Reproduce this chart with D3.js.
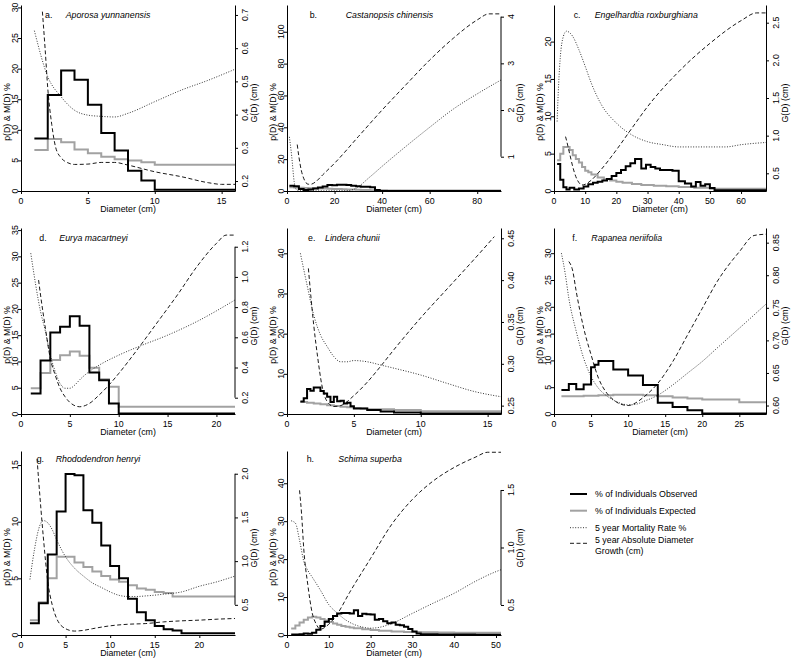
<!DOCTYPE html>
<html><head><meta charset="utf-8">
<script src="https://cdn.jsdelivr.net/npm/d3@7"></script>
<style>
body{margin:0;background:#fff}
svg{display:block}
text{font-family:"Liberation Sans",Arial,sans-serif;font-size:8.8px;fill:#000}
</style>
</head><body>
<svg id="chart" width="793" height="661"></svg>
<script>
// ---------- Panel a: Aporosa yunnanensis ----------
const obsEdgesA = [1,2,3,4,5,6,7,8,9,10,16];
const obsA = [8.6,15.7,19.7,18.2,14.1,9.5,6.6,3.3,1.7,0.2];
const expEdgesA = [1,2,3,4,5,6,7,8,9,10,16];
const expA = [6.7,8.5,7.95,6.8,6.15,5.6,5.2,5.0,4.7,4.3];
const mortXA = [1,2,3,4,5,6,7,8,10,12,14,16];
const mortA = [26.2,18.7,15.4,13.2,12.4,12.2,12.1,12.7,14.6,16.5,18.1,19.9];
const growXA = [1.6,1.8,2.0,2.3,2.6,3.0,3.5,4,5,6,7,8,10,12,14,15,16];
const growA = [0.71,0.6,0.48,0.37,0.3,0.27,0.255,0.25,0.251,0.256,0.256,0.248,0.228,0.213,0.195,0.19,0.19];

// ---------- Panel b: Castanopsis chinensis ----------
const obsEdgesB = [1,3,5,7,9,11,13,15,17,19,21,23,25,27,29,31,33,35,37,39,90];
const obsB = [3.3,3.0,1.2,0.6,0.9,1.5,2.2,2.8,3.8,3.6,3.9,4.0,3.8,3.3,3.0,2.6,2.7,2.3,0.6,0.05];
const expEdgesB = [1,3,5,7,9,11,13,15,17,19,21,23,25,27,29,31,33,35,37,39,42,45,90];
const expB = [2.3,2.2,2.0,1.9,1.8,1.7,1.6,1.5,1.4,1.3,1.2,1.1,1.0,0.9,0.8,0.7,0.6,0.5,0.45,0.4,0.35,0.3];
const mortXB = [1,2,3,4,5,8,15,25,28,35,40,50,60,70,80,90];
const mortB = [34,21.5,6,0.8,0.2,0.1,0.1,0.2,1,9,15.5,28,40,51.5,61,69.7];
const growXB = [4.3,5,6,7,8,9,10,12,15,20,30,40,50,60,70,80,85,90];
const growB = [1.26,1.0,0.71,0.54,0.44,0.41,0.41,0.46,0.61,0.86,1.43,2.0,2.54,3.07,3.54,3.93,4.06,4.06];

// ---------- Panel c: Engelhardtia roxburghiana ----------
const obsEdgesC = [1,2,3,4,5,6.5,8,9.5,11,12.5,14,15.5,17,18.5,20,21.5,23,24.5,26,28,29.5,31,32.5,34,36,38,40,42,44,45.5,47,48.5,50,51.5,68];
const obsC = [3.6,1.5,0.5,0.2,0.45,0.2,0.35,0.6,0.9,1.1,1.25,1.4,1.6,2.0,2.4,2.8,3.3,3.7,4.3,3.0,3.5,3.2,3.0,2.8,2.8,2.7,1.3,1.0,0.6,1.2,0.7,0.9,0.4,0.1];
const expEdgesC = [1,2,3,5,6,7,8,9,10,11,12,14,16,18,20,22,25,28,32,36,40,45,50,68];
const expC = [4.1,5.0,5.9,5.5,4.8,4.3,3.8,3.2,2.7,2.5,2.2,1.8,1.6,1.4,1.25,1.1,0.95,0.82,0.7,0.62,0.55,0.42,0.3];
const mortXC = [1,1.5,2,3,4,5,6,8,10,12,15,20,25,30,35,40,45,50,55,60,68];
const mortC = [9.3,14.4,17.8,20.7,21.4,21.2,20.7,18.9,16.7,14.4,11.7,9.1,7.5,6.6,6.2,5.9,5.9,5.9,5.9,6.2,6.5];
const growXC = [3.7,4,5,6,7,8,9,10,12,15,20,25,30,40,50,60,65,68];
const growC = [0.987,0.94,0.765,0.59,0.456,0.376,0.345,0.354,0.41,0.544,0.81,1.1,1.385,1.85,2.225,2.527,2.63,2.63];

// ---------- Panel d: Eurya macartneyi ----------
const obsEdgesD = [1,2,3,4,5,6,7,8,9,10,21.9];
const obsD = [3.9,10.2,15.5,16.6,18.6,16.8,7.9,6.4,2.0,0.1];
const expEdgesD = [1,2,3,4,5,6,7,8,9,10,21.9];
const expD = [4.9,7.8,10.3,11.2,11.9,11.1,8.8,6.6,5.2,1.4];
const mortXD = [1,2,2.5,3,3.5,4,4.5,5,5.5,6,7,8,10,12,15,18,21.9];
const mortD = [30.6,19.5,15.7,11.2,8.1,5.8,4.9,4.9,5.5,6.5,8.1,9.3,11.2,12.8,15.0,17.6,21.7];
const growXD = [1.8,2,2.5,3,3.5,4,4.5,5,6,7,8,9,10,12,14,16,18,20,21,21.9];
const growD = [0.979,0.88,0.659,0.46,0.35,0.262,0.207,0.169,0.14,0.162,0.218,0.284,0.36,0.527,0.703,0.88,1.068,1.222,1.277,1.277];

// ---------- Panel e: Lindera chunii ----------
const obsEdgesE = [1,1.25,1.5,1.75,2,2.5,2.75,3,3.25,3.5,3.75,4,4.25,4.5,4.75,5,6,7,8,10,16];
const obsE = [3.1,3.9,6.2,5.8,6.6,5.7,5.1,4.3,3.0,4.3,3.2,3.3,2.6,2.8,1.9,1.4,1.0,0.6,0.4,0.15];
const expEdgesE = [1,1.5,2,2.5,3,3.5,4,4.5,5,5.5,6,8,10,16];
const expE = [3.0,2.8,2.6,2.4,2.2,2.0,1.8,1.7,1.5,1.4,1.2,1.0,0.7];
const mortXE = [1,1.5,2,2.5,3,3.5,4,4.5,5,6,7,8,10,12,14,16];
const mortE = [40,32.1,24.6,19.7,16.8,14.3,13,13,13.3,13,12.2,11.4,9.7,7.6,5.6,4.3];
const growXE = [1.6,1.8,2,2.3,2.6,3,3.5,4,5,6,7,8,10,12,14,15.5];
const growE = [0.414,0.378,0.346,0.307,0.275,0.255,0.249,0.25,0.262,0.278,0.297,0.317,0.355,0.39,0.425,0.452];

// ---------- Panel f: Rapanea neriifolia ----------
const obsEdgesF = [1,2,3,4,5,5.5,6,8,10,12,14,16,18,20,28.6];
const obsF = [4.5,5.6,4.6,5.5,8.7,9.2,9.9,8.3,7.2,5.4,2.1,1.3,0.7,0.1];
const expEdgesF = [1,4,6,8,12,14,16,18,20,25,28.6];
const expF = [3.3,3.4,3.5,3.6,3.5,3.3,3.1,2.9,2.7,2.2];
const mortXF = [1,1.5,2,3,4,5,6,7,8,9,10,11,12,14,16,18,20,22,25,28.6];
const mortF = [30,26.3,21.6,15.4,10.4,7.0,4.8,3.5,2.6,2.0,1.7,1.8,2.3,3.5,5.4,7.6,9.8,12.3,16,20.5];
const growXF = [2,2.5,3,4,5,6,7,8,9,10,11,12,14,16,18,20,22,25,27,28.6];
const growF = [0.821,0.808,0.775,0.719,0.678,0.642,0.621,0.609,0.602,0.60,0.604,0.612,0.634,0.667,0.708,0.749,0.79,0.836,0.861,0.863];

// ---------- Panel g: Rhododendron henryi ----------
const obsEdgesG = [1,2,3,4,5,6,7,8,9,10,11,12,13,14,15,16,17,18,24];
const obsG = [1.03,2.8,7.1,10.9,14.2,14.1,11.0,9.9,7.9,6.1,5.0,3.2,2.0,1.3,0.8,0.5,0.4,0.15];
const expEdgesG = [1,2,3,4,5,6,7,8,9,10,11,12,13,14,15,16,17,18,24];
const expG = [1.3,2.9,5.0,6.9,6.9,6.4,6.0,5.6,5.2,4.9,4.7,4.4,4.1,4.0,3.8,3.7,3.4,3.4];
const mortXG = [1,1.5,2,2.5,3,3.5,4,5,6,7,8,9,10,11,12,13,14,16,18,20,22,24];
const mortG = [4.9,7.5,9.4,10.1,9.9,9.3,8.4,6.9,5.9,5.2,4.6,4.2,3.8,3.5,3.4,3.4,3.45,3.6,3.8,4.3,4.7,5.2];
const growXG = [1.8,2,2.5,3,3.5,4,5,6,7,8,10,12,14,16,18,20,22,24];
const growG = [2.17,1.9,1.28,0.77,0.5,0.344,0.227,0.2,0.208,0.227,0.26,0.278,0.286,0.305,0.317,0.325,0.336,0.344];

// ---------- Panel h: Schima superba ----------
const obsEdgesH = [1,2,3,4,5,6,7,8,9,10,11,12,13,14,15,16,17,18,19,20,21,22,23,24,25,26,27,28,29,30,31,32,36,45,51.2];
const obsH = [0.1,0.1,0.2,0.4,0.3,0.6,1.4,2.4,3.5,4.2,5.0,5.7,5.8,5.8,5.7,6.5,5.0,5.6,5.5,5.4,4.0,4.2,3.6,3.1,3.3,2.7,2.6,2.2,1.6,0.9,0.4,0.2,0.1,0.05];
const expEdgesH = [1,2,3,4,5,6,7,8,9,10,11,12,13,14,15,16,18,20,22,25,28,32,36,40,51.2];
const expH = [1.7,2.5,3.3,4.0,4.6,4.8,4.6,4.2,3.8,3.4,3.0,2.7,2.4,2.2,2.0,1.8,1.5,1.3,1.1,0.95,0.8,0.7,0.65,0.6];
const mortXH = [1,2,3,4,5,6,8,10,12,14,16,18,20,22,25,30,35,40,45,50,51.2];
const mortH = [30.1,29.5,25,19.5,17,15.3,11.8,8.0,5.8,4.0,2.8,2.1,1.8,2.0,3.0,5.7,8.4,11,14.1,16.7,17.2];
const growXH = [3,3.5,4,5,6,7,8,9,10,12,15,20,25,30,35,40,45,48,51.2];
const growH = [1.497,1.286,0.993,0.67,0.436,0.333,0.289,0.304,0.333,0.42,0.61,0.905,1.198,1.418,1.579,1.696,1.784,1.828,1.828];

// ---------- Labels / ticks ----------
const panelLetters = ["a.","b.","c.","d.","e.","f.","g.","h."];
const speciesNames = ["Aporosa yunnanensis","Castanopsis chinensis","Engelhardtia roxburghiana","Eurya macartneyi","Lindera chunii","Rapanea neriifolia","Rhododendron henryi","Schima superba"];
const xTicksAll = [[0,5,10,15],[0,20,40,60,80],[0,10,20,30,40,50,60],[0,5,10,15,20],[0,5,10,15],[0,5,10,15,20,25],[0,5,10,15,20],[0,10,20,30,40,50]];
const leftTicksAll = [[0,5,10,15,20,25,30],[0,20,40,60,80,100],[0,5,10,15,20],[0,5,10,15,20,25,30,35],[0,10,20,30,40],[0,5,10,15,20,25,30],[0,5,10,15],[0,10,20,30,40]];
const rightTicksAll = [[0.2,0.3,0.4,0.5,0.6,0.7],[1,2,3,4],[0.5,1.0,1.5,2.0,2.5],[0.2,0.4,0.6,0.8,1.0,1.2],[0.25,0.30,0.35,0.40,0.45],[0.60,0.65,0.70,0.75,0.80,0.85],[0.5,1.0,1.5,2.0],[0.5,1.0,1.5]];
const rightFormats = [".1f","d",".1f",".1f",".2f",".2f",".1f",".1f"];
const legendLabels = ["% of Individuals Observed","% of Individuals Expected","5 year Mortality Rate %","5 year Absolute Diameter","Growth (cm)"];
const xAxisTitle = "Diameter (cm)";
const leftAxisTitle = "p(D) & M(D) %";
const rightAxisTitle = "G(D) (cm)";

// ---------- layout (positions only) ----------
const cols = [[21,235],[287,501],[554,766]];
const rows = [[5,191],[228,414],[451,635]];
const layout = [
  {col:0,row:0,xDom:[0,16],  lDom:[0,30.4], rDom:[0.17,0.73],  rFull:true,  lab:[24,44.7,12.5]},
  {col:1,row:0,xDom:[0,90],  lDom:[0,116.8],rDom:[0.265,4.25], rFull:false, lab:[22.7,58.7,12.5]},
  {col:2,row:0,xDom:[0,68],  lDom:[0,24.9], rDom:[0.265,2.735],rFull:true,  lab:[19.7,40.7,12.5]},
  {col:0,row:1,xDom:[0,21.9],lDom:[0,35.4], rDom:[0.092,1.324],rFull:false, lab:[18.3,38.3,13]},
  {col:1,row:1,xDom:[0,16],  lDom:[0,46.3], rDom:[0.240,0.4623],rFull:true, lab:[21,38,13]},
  {col:2,row:1,xDom:[0,28.6],lDom:[0,34.7], rDom:[0.587,0.8725],rFull:true, lab:[18.3,37.3,13]},
  {col:0,row:2,xDom:[0,24],  lDom:[0,16.24],rDom:[0.155,2.26], rFull:false, lab:[15.7,34.7,10.5]},
  {col:1,row:2,xDom:[0,51.2],lDom:[0,48.5], rDom:[0.239,1.839],rFull:false, lab:[19.7,51.3,10.5]}
];
const seriesData = [
  [obsEdgesA,obsA,expEdgesA,expA,mortXA,mortA,growXA,growA],
  [obsEdgesB,obsB,expEdgesB,expB,mortXB,mortB,growXB,growB],
  [obsEdgesC,obsC,expEdgesC,expC,mortXC,mortC,growXC,growC],
  [obsEdgesD,obsD,expEdgesD,expD,mortXD,mortD,growXD,growD],
  [obsEdgesE,obsE,expEdgesE,expE,mortXE,mortE,growXE,growE],
  [obsEdgesF,obsF,expEdgesF,expF,mortXF,mortF,growXF,growF],
  [obsEdgesG,obsG,expEdgesG,expG,mortXG,mortG,growXG,growG],
  [obsEdgesH,obsH,expEdgesH,expH,mortXH,mortH,growXH,growH]
];

const OBS_STYLE = {stroke:"#000", w:2, dash:null};
const EXP_STYLE = {stroke:"#a2a2a2", w:2, dash:null};
const MORT_STYLE = {stroke:"#000", w:0.8, dash:"1,1.6"};
const GROW_STYLE = {stroke:"#000", w:0.9, dash:"4,2.5"};

const svg = d3.select("#chart");
const defs = svg.append("defs");

function stepPoints(edges, vals){
  const pts = vals.map((v,i)=>[edges[i], v]);
  pts.push([edges[edges.length-1], vals[vals.length-1]]);
  return pts;
}
function styl(sel, s){
  sel.attr("fill","none").attr("stroke",s.stroke).attr("stroke-width",s.w);
  if (s.dash) sel.attr("stroke-dasharray", s.dash);
  return sel;
}

layout.forEach((p, i) => {
  const [x0,x1] = cols[p.col], [y0,y1] = rows[p.row];
  const x = d3.scaleLinear().domain(p.xDom).range([x0,x1]);
  const yl = d3.scaleLinear().domain(p.lDom).range([y1,y0]);
  const yr = d3.scaleLinear().domain(p.rDom).range([y1,y0]);
  const [oE,oV,eE,eV,mX,mV,gX,gV] = seriesData[i];
  const g = svg.append("g");

  defs.append("clipPath").attr("id","clip"+i).append("rect")
    .attr("x",x0).attr("y",y0-1).attr("width",x1-x0).attr("height",y1-y0+1);
  const plot = g.append("g").attr("clip-path","url(#clip"+i+")");

  const stepLine = d3.line().x(d=>x(d[0])).y(d=>yl(d[1])).curve(d3.curveStepAfter);
  styl(plot.append("path").attr("d", stepLine(stepPoints(eE,eV))), EXP_STYLE);
  styl(plot.append("path").attr("d", stepLine(stepPoints(oE,oV))), OBS_STYLE);

  const mortLine = d3.line().x(d=>x(d[0])).y(d=>yl(d[1])).curve(d3.curveMonotoneX);
  styl(plot.append("path").attr("d", mortLine(mX.map((v,k)=>[v,mV[k]]))), MORT_STYLE);
  const growLine = d3.line().x(d=>x(d[0])).y(d=>yr(d[1])).curve(d3.curveMonotoneX);
  styl(plot.append("path").attr("d", growLine(gX.map((v,k)=>[v,gV[k]]))), GROW_STYLE);

  // x axis
  const xa = g.append("g").attr("transform",`translate(0,${y1})`)
    .call(d3.axisBottom(x).tickValues(xTicksAll[i]).tickSize(3).tickSizeOuter(0).tickFormat(""));
  xa.selectAll("text").remove();
  g.selectAll(null).data(xTicksAll[i]).enter().append("text")
    .attr("x", d=>x(d)).attr("y", y1+13).attr("text-anchor","middle").text(d=>d);
  g.append("text").attr("x",(x0+x1)/2).attr("y",y1+21).attr("text-anchor","middle").text(xAxisTitle);

  // left axis
  g.append("g").attr("transform",`translate(${x0},0)`)
    .call(d3.axisLeft(yl).tickValues(leftTicksAll[i]).tickSize(3).tickSizeOuter(0).tickFormat(""));
  g.selectAll(null).data(leftTicksAll[i]).enter().append("text")
    .attr("transform", d=>`translate(${x0-3},${yl(d)}) rotate(-90)`)
    .attr("text-anchor","middle").text(d=>d);
  g.append("text").attr("transform",`translate(${x0-11},${(y0+y1)/2+14}) rotate(-90)`)
    .attr("text-anchor","middle").text(leftAxisTitle);

  // right axis
  const rt = rightTicksAll[i];
  const ra = g.append("g").attr("transform",`translate(${x1},0)`)
    .call(d3.axisRight(yr).tickValues(rt).tickSize(3).tickSizeOuter(0).tickFormat(""));
  if (!p.rFull) {
    ra.select(".domain").remove();
    ra.append("line").attr("x1",0).attr("x2",0)
      .attr("y1",yr(rt[0])).attr("y2",yr(rt[rt.length-1])).attr("stroke","#000");
  }
  const fmt = d3.format(rightFormats[i]);
  g.selectAll(null).data(rt).enter().append("text")
    .attr("transform", d=>`translate(${x1+12.5},${yr(d)}) rotate(-90)`)
    .attr("text-anchor","middle").text(d=>fmt(d));
  g.append("text").attr("transform",`translate(${x1+21.5},${(y0+y1)/2+5}) rotate(-90)`)
    .attr("text-anchor","middle").text(rightAxisTitle);

  // panel labels
  g.append("text").attr("x",x0+p.lab[0]).attr("y",y0+p.lab[2]).text(panelLetters[i]);
  g.append("text").attr("x",x0+p.lab[1]).attr("y",y0+p.lab[2]).attr("font-style","italic").text(speciesNames[i]);
});

svg.selectAll(".domain").attr("stroke","#000");
svg.selectAll(".tick line").attr("stroke","#000");

// ---------- legend ----------
const legY = [494, 510.7, 527.7, 543.3];
const legStyles = [OBS_STYLE, EXP_STYLE, MORT_STYLE, GROW_STYLE];
const lg = svg.append("g");
legStyles.forEach((s,k)=>{
  styl(lg.append("line").attr("x1",570).attr("x2",587).attr("y1",legY[k]).attr("y2",legY[k]), s);
});
[0,1,2].forEach(k=>{
  lg.append("text").attr("x",595).attr("y",legY[k]+3.2).text(legendLabels[k]);
});
lg.append("text").attr("x",595).attr("y",543.3).text(legendLabels[3]);
lg.append("text").attr("x",595).attr("y",554.2).text(legendLabels[4]);
</script>
</body></html>
